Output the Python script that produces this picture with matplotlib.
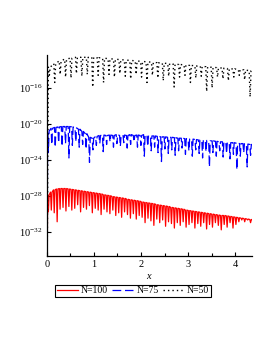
import matplotlib
matplotlib.use("Agg")
import matplotlib.pyplot as plt
import numpy as np

# log10 of the error: envelope top and dip bottom at each dip
RED_TOPS = [-27.9, -27.6, -27.35, -27.25, -27.2, -27.2, -27.2, -27.25, -27.3, -27.35,
            -27.4, -27.45, -27.5, -27.55, -27.6, -27.65, -27.7, -27.75, -27.8, -27.9,
            -27.95, -28.0, -28.1, -28.15, -28.2, -28.25, -28.3, -28.4, -28.45, -28.5,
            -28.55, -28.6, -28.7, -28.75, -28.8, -28.85, -28.9, -29.0, -29.05, -29.1,
            -29.15, -29.2, -29.3, -29.35, -29.4, -29.45, -29.5, -29.6, -29.65, -29.7,
            -29.75, -29.8, -29.85, -29.9, -29.95, -30.0, -30.05, -30.1, -30.15, -30.2,
            -30.2, -30.25, -30.3, -30.35, -30.4, -30.45, -30.5, -30.55, -30.6, -30.65]
RED_DIPS = [-29.8, -29.6, -29.9, -30.9, -29.5, -29.3, -29.7, -29.2, -29.6, -29.4,
            -29.0, -29.8, -29.3, -29.5, -29.1, -29.9, -29.4, -29.6, -30.1, -29.5,
            -29.8, -30.0, -29.6, -30.2, -29.9, -30.4, -29.8, -30.1, -30.5, -30.0,
            -30.6, -30.2, -30.4, -31.0, -30.5, -30.8, -31.3, -30.6, -31.0, -30.7,
            -31.4, -30.9, -31.1, -31.6, -31.0, -31.3, -30.9, -31.5, -31.2, -31.0,
            -31.6, -31.1, -31.4, -31.0, -31.7, -31.2, -31.5, -31.0, -31.3, -31.8,
            -31.2, -31.5, -31.0, -31.6, -31.2, -30.9, -30.7, -30.9, -30.7, -31.0]

BLUE_TOPS = [-20.8, -20.5, -20.4, -20.35, -20.3, -20.3, -20.3, -20.35, -20.45, -20.6,
             -20.85, -21.1, -21.5, -21.6, -21.4, -21.3, -21.25, -21.3, -21.25, -21.3,
             -21.2, -21.3, -21.25, -21.3, -21.2, -21.3, -21.25, -21.3, -21.2, -21.3,
             -21.35, -21.35, -21.4, -21.45, -21.45, -21.5, -21.5, -21.55, -21.6, -21.6,
             -21.65, -21.7, -21.7, -21.75, -21.8, -21.8, -21.85, -21.9, -21.9, -21.95,
             -22.0, -22.0, -22.05, -22.1, -22.1, -22.15, -22.2, -22.2, -22.25, -22.3]
BLUE_DIPS = [-23.2, -22.3, -22.6, -22.1, -22.5, -22.2, -23.8, -22.4, -22.0, -22.6,
             -22.3, -22.8, -24.3, -22.9, -22.4, -22.2, -23.1, -22.3, -22.0, -22.6,
             -22.2, -22.5, -22.1, -22.7, -22.3, -22.0, -22.6, -22.4, -23.6, -22.5,
             -23.0, -22.6, -23.2, -24.2, -22.8, -23.3, -22.9, -23.5, -23.0, -22.7,
             -23.4, -23.0, -23.6, -22.9, -23.3, -23.8, -23.1, -24.8, -23.2, -23.6,
             -23.0, -23.7, -23.3, -23.9, -23.4, -25.1, -23.6, -23.2, -24.8, -23.5]

BLACK_TOPS = [-13.7, -13.3, -13.0, -12.8, -12.7, -12.6, -12.6, -12.6, -12.6, -12.65,
              -12.7, -12.75, -12.8, -12.85, -12.9, -12.95, -13.0, -13.05, -13.1, -13.15,
              -13.2, -13.25, -13.3, -13.35, -13.4, -13.45, -13.5, -13.55, -13.6, -13.65,
              -13.7, -13.75, -13.8, -13.85, -13.9, -13.95, -14.0, -14.1]
BLACK_DIPS = [-14.6, -15.4, -14.5, -14.8, -14.9, -14.4, -14.7, -14.5, -15.9, -14.6,
              -15.4, -14.5, -14.8, -14.4, -14.7, -15.0, -14.5, -14.8, -15.4, -14.6,
              -14.9, -15.2, -14.7, -15.9, -14.8, -14.6, -15.4, -14.9, -14.7, -16.4,
              -16.0, -14.8, -15.0, -15.2, -14.8, -14.6, -15.1, -17.0]

RED_RANGE = (0.03, 4.33)
BLUE_RANGE = (0.03, 4.33)
BLACK_RANGE = (0.05, 4.32)
X_END = 4.36
ZERO_LOG = -40.0  # error is zero at x = 0

LABELS = ["N=100", "N=75", "N=50"]
X_TICKS = [0, 1, 2, 3, 4]
Y_TICK_EXP = [-16, -20, -24, -28, -32]


def spiky_path(x_range, tops, dips, width):
    dip_x = np.linspace(x_range[0], x_range[1], len(tops))
    xs = [0.0]
    ys = [ZERO_LOG]
    for x, top, dip in zip(dip_x, tops, dips):
        xs += [x - width, x, min(x + width, X_END)]
        ys += [top, dip, top]
    xs.append(X_END)
    ys.append(tops[-1])
    return np.array(xs), 10.0 ** np.array(ys)


def main() -> None:
    plt.rcParams["font.family"] = ["Liberation Serif", "DejaVu Serif"]
    plt.rcParams["mathtext.fontset"] = "custom"
    plt.rcParams["mathtext.rm"] = "Liberation Serif"
    plt.rcParams["mathtext.it"] = "Liberation Serif:italic"

    fig = plt.figure(figsize=(2.73, 3.53), dpi=100)
    ax = fig.add_axes([0.172, 0.275, 0.751, 0.569])

    rx, ry = spiky_path(RED_RANGE, RED_TOPS, RED_DIPS, 0.016)
    bx, by = spiky_path(BLUE_RANGE, BLUE_TOPS, BLUE_DIPS, 0.016)
    kx, ky = spiky_path(BLACK_RANGE, BLACK_TOPS, BLACK_DIPS, 0.02)

    ax.plot(rx, ry, color="#ff0000", lw=0.9, label=LABELS[0])
    ax.plot(bx, by, color="#0000ff", lw=0.9, ls=(0, (7, 3)), label=LABELS[1])
    ax.plot(kx, ky, color="black", lw=1.0, ls=(0, (1, 2.2)), label=LABELS[2])

    ax.set_yscale("log")
    ax.set_xlim(0, X_END)
    ax.set_ylim(10.0 ** -34.7, 10.0 ** -12.35)

    ax.set_xticks(X_TICKS)
    ax.set_xticklabels([str(t) for t in X_TICKS])
    ax.set_xticks(np.arange(0.5, 4.5, 1.0), minor=True)
    ax.set_yticks([10.0 ** e for e in Y_TICK_EXP])
    ax.set_yticklabels([r"$10^{%d}$" % e for e in Y_TICK_EXP])
    ax.yaxis.set_minor_locator(matplotlib.ticker.NullLocator())
    ax.tick_params(axis="both", which="both", direction="in", labelsize=7.5,
                   length=3, width=0.8, pad=3)
    ax.tick_params(axis="x", which="minor", length=2)

    for side in ("top", "right"):
        ax.spines[side].set_visible(False)
    for side in ("left", "bottom"):
        ax.spines[side].set_linewidth(0.9)

    ax.set_xlabel("$x$", fontsize=7.5, labelpad=2)

    leg = fig.legend(loc="center", bbox_to_anchor=(0.487, 0.176), ncol=3,
                     fontsize=7, frameon=True, fancybox=False, framealpha=1,
                     edgecolor="black", handlelength=2.2, handletextpad=0.3,
                     columnspacing=0.4, borderpad=0.15, borderaxespad=0)
    leg.get_frame().set_linewidth(0.8)

    fig.savefig("out.png", dpi=100)
    plt.close(fig)


if __name__ == "__main__":
    main()
